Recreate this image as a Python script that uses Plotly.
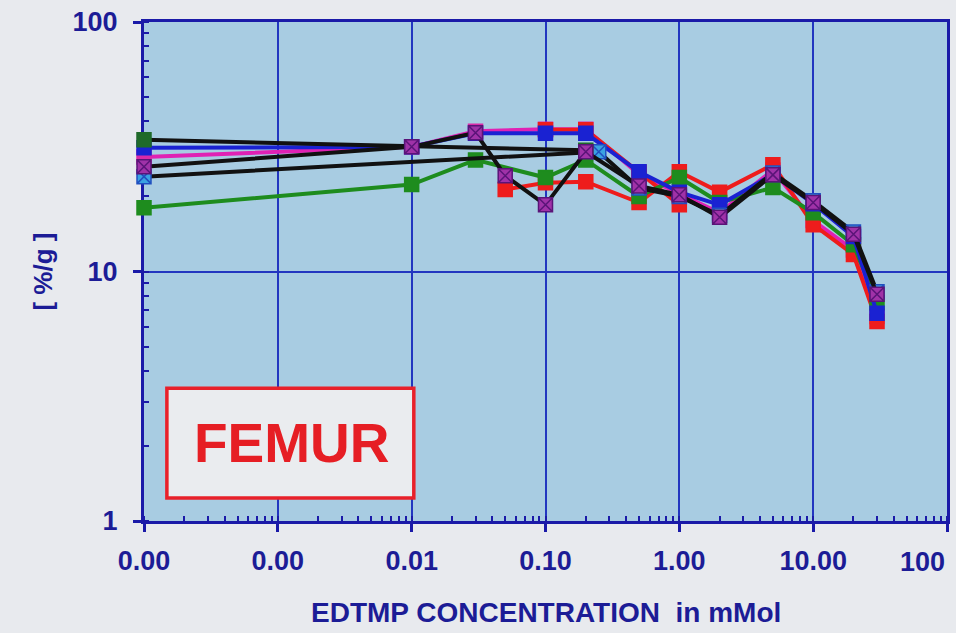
import plotly.graph_objects as go

# EDTMP concentration (mMol) and femur uptake (%/g) per series
red_x = [0.05, 0.1, 0.2, 0.5, 1, 2, 5, 10, 20, 30]
red_y = [21.3, 22.7, 22.9, 18.9, 25.1, 20.8, 26.8, 15.4, 11.7, 6.3]

red2_x = [0.1, 0.2, 0.5, 1]
red2_y = [37.0, 37.0, 25.0, 18.5]

magenta_x = [0.0001, 0.01, 0.03, 0.1, 0.2, 0.5, 1, 2, 5, 10, 20, 30]
magenta_y = [28.8, 31.6, 36.5, 37.2, 37.2, 24.5, 20.5, 17.2, 25.5, 16.0, 12.2, 6.6]

green_x = [0.0001, 0.01, 0.03, 0.1, 0.2, 0.5, 1, 2, 5, 10, 20, 30]
green_y = [18.0, 22.3, 28.0, 23.8, 28.0, 20.0, 23.8, 18.9, 21.7, 17.2, 12.8, 7.5]

blue_x = [0.0001, 0.01, 0.03, 0.1, 0.2, 0.5, 1, 2, 5, 10, 20, 30]
blue_y = [31.3, 31.6, 35.8, 35.8, 35.8, 25.1, 20.8, 18.5, 24.5, 18.7, 13.8, 6.8]

cyan_x = [0.0001, 0.25, 0.5, 1, 2, 5, 10, 20, 30]
cyan_y = [24.0, 30.2, 21.6, 20.0, 16.8, 24.8, 19.2, 14.4, 8.3]

darkgreen_x = [0.0001, 0.2]
darkgreen_y = [33.7, 30.6]

purple_x = [0.0001, 0.01, 0.03, 0.05, 0.1, 0.2, 0.5, 1, 2, 5, 10, 20, 30]
purple_y = [26.3, 31.6, 36.0, 24.2, 18.5, 30.2, 22.0, 20.3, 16.5, 24.4, 18.9, 14.1, 8.1]

x_tick_vals = [0.0001, 0.001, 0.01, 0.1, 1, 10, 100]
x_tick_text = ["0.00", "0.00", "0.01", "0.10", "1.00", "10.00", "100"]
y_tick_vals = [1, 10, 100]
y_tick_text = ["1", "10", "100"]

FONT = "Liberation Sans, Arial, sans-serif"
NAVY = "#1c1c96"
GRID = "#2236c0"
AXIS = "#1a1aa8"

fig = go.Figure()


def add_series(x, y, line_color, marker_color, symbol="square", edge=None):
    fig.add_trace(go.Scatter(
        x=x, y=y, mode="lines+markers", cliponaxis=False,
        line=dict(color=line_color, width=4),
        marker=dict(symbol=symbol, size=14, color=marker_color,
                    line=dict(color=edge or marker_color, width=1.5)),
        showlegend=False,
    ))


add_series(magenta_x, magenta_y, "#e021b4", "#d92aa8")
add_series(red2_x, red2_y, "#ee1c1c", "#ee1c1c")
add_series(red_x, red_y, "#ee1c1c", "#ee1c1c")
add_series(green_x, green_y, "#1e8c1e", "#1e8c1e")
add_series(blue_x, blue_y, "#1a22d2", "#1a22d2")
add_series(cyan_x, cyan_y, "#111111", "#3aa2e2", "square-x", "#2050c0")
add_series(darkgreen_x, darkgreen_y, "#111111", "#1f6a2a")
add_series(purple_x, purple_y, "#111111", "#a032a8", "square-x", "#5a1478")

# label box
fig.add_shape(type="rect", xref="paper", yref="paper",
              x0=0.0285, x1=0.336, y0=0.046, y1=0.266,
              line=dict(color="#e8202a", width=3.5), fillcolor="#eaecef",
              layer="above")
fig.add_annotation(xref="paper", yref="paper", x=0.184, y=0.156,
                   xanchor="center", yanchor="middle",
                   text="<b>FEMUR</b>", showarrow=False,
                   font=dict(family=FONT, size=55, color="#e61e24"))

# last x label sits inside the figure edge
fig.add_annotation(xref="paper", yref="paper", x=0.969, y=-0.083,
                   text="<b>%s</b>" % x_tick_text[-1], showarrow=False,
                   xanchor="center", yanchor="middle",
                   font=dict(family=FONT, size=27, color=NAVY))

fig.add_annotation(xref="paper", yref="paper", x=0.5, y=-0.184,
                   text="<b>EDTMP CONCENTRATION  in mMol</b>", showarrow=False,
                   xanchor="center", yanchor="middle",
                   font=dict(family=FONT, size=28, color=NAVY))
fig.add_annotation(xref="paper", yref="paper", x=-0.127, y=0.5,
                   text="<b>[ %/g ]</b>", showarrow=False, textangle=-90,
                   xanchor="center", yanchor="middle",
                   font=dict(family=FONT, size=26, color=NAVY))

fig.update_xaxes(
    type="log", range=[-4, 2],
    tickvals=x_tick_vals, ticktext=x_tick_text[:-1] + [""],
    ticks="outside", ticklen=8, tickwidth=3, tickcolor=AXIS,
    ticklabelstandoff=6,
    tickfont=dict(family=FONT, size=27, color=NAVY, weight="bold"),
    showgrid=True, gridcolor=GRID, gridwidth=2,
    showline=True, linecolor=AXIS, linewidth=3, mirror=True,
    minor=dict(ticks="inside", ticklen=5, tickwidth=2, tickcolor=AXIS,
               dtick="D1", showgrid=False),
    zeroline=False, layer="below traces",
)
fig.update_yaxes(
    type="log", range=[0, 2],
    tickvals=y_tick_vals, ticktext=y_tick_text,
    ticks="outside", ticklen=8, tickwidth=3, tickcolor=AXIS,
    ticklabelstandoff=10,
    tickfont=dict(family=FONT, size=27, color=NAVY, weight="bold"),
    showgrid=True, gridcolor=GRID, gridwidth=2,
    showline=True, linecolor=AXIS, linewidth=3, mirror=True,
    minor=dict(ticks="inside", ticklen=5, tickwidth=2, tickcolor=AXIS,
               dtick="D1", showgrid=False),
    zeroline=False, layer="below traces",
)

fig.update_layout(
    width=956, height=633,
    margin=dict(l=144, r=6, t=22, b=112),
    paper_bgcolor="#e8eaee",
    plot_bgcolor="#a8cce2",
    font=dict(family=FONT, color=NAVY),
)

fig.write_html("out.html")
